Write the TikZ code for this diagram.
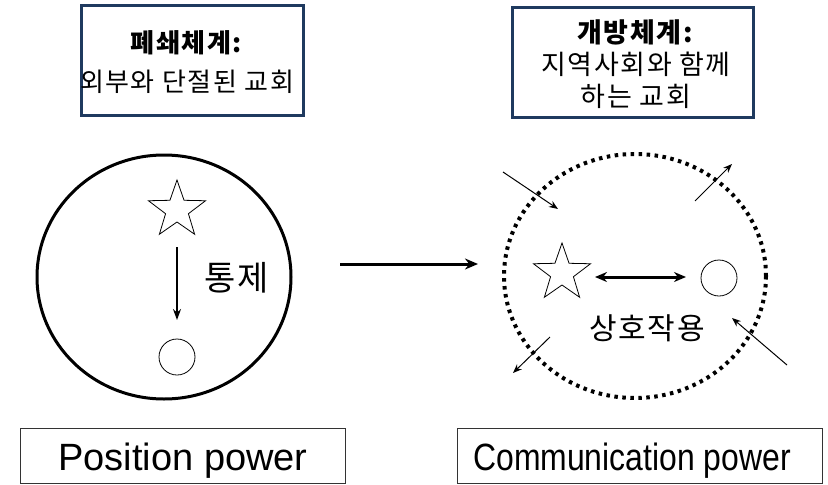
\documentclass[tikz,border=0pt]{standalone}
\usepackage{fontspec}
\setmainfont{Liberation Sans}
\newfontfamily\kr{Noto Sans CJK KR}
\newfontfamily\krwide{Noto Sans CJK KR}[LetterSpace=6]
\usetikzlibrary{shapes.geometric,arrows.meta}
\definecolor{navy}{HTML}{1F3A5F}
\tikzset{
  topbox/.style={draw=navy,line width=3pt,minimum width=#1,inner sep=0pt},
  botbox/.style={draw=black!80,line width=1pt,minimum height=55pt,inner sep=0pt},
  starshape/.style={draw,star,star points=5,star point ratio=2.5,minimum size=60pt,inner sep=0pt,line width=0.8pt},
  smallcirc/.style={draw,circle,minimum size=36pt,inner sep=0pt,line width=0.8pt},
  thinarrow/.style={line width=1pt,-{Stealth[length=9pt,width=7pt]}},
  ktext/.style={font=\krwide\fontsize{#1}{#1}\selectfont,inner sep=0pt}
}
\begin{document}
\begin{tikzpicture}[x=1pt,y=-1pt]
\useasboundingbox (0,0) rectangle (828,485);
% top boxes
\node[topbox=222pt,minimum height=110pt] (boxL) at (192,60) {};
\node[align=center,font=\krwide\fontsize{26}{39}\selectfont,inner sep=0pt] (txtL) at (187,62) {\textbf{폐쇄체계:}\\외부와 단절된 교회};
\node[topbox=241pt,minimum height=110pt] (boxR) at (632.5,62) {};
\node[align=center,font=\krwide\fontsize{27}{32}\selectfont,inner sep=0pt] (txtR) at (636,64) {\textbf{개방체계:}\\지역사회와 함께\\하는 교회};
% left circle
\draw[line width=3pt] (164,277) ellipse (127 and 122);
\node[starshape] (starL) at (177,210) {};
\node[smallcirc] (circL) at (177,357) {};
\coordinate (cL1) at (177,247);
\coordinate (cL2) at (177,320);
\draw[line width=1.6pt,-{Stealth[length=11pt,width=8pt]}] (cL1) -- (cL2);
\node[ktext=34] (tongje) at (237,278) {통제};
% middle arrow
\coordinate (m1) at (340,264);
\coordinate (m2) at (478,264);
\draw[line width=3pt,-{Stealth[length=13pt,width=11pt]}] (m1) -- (m2);
% right dotted circle
\draw[line width=4pt,dash pattern=on 3.5pt off 4.5pt] (635,276) ellipse (131 and 122);
\node[starshape] (starR) at (562,273) {};
\node[smallcirc] (circR) at (719,278) {};
\coordinate (d1) at (595,277);
\coordinate (d2) at (686,277);
\draw[line width=3pt,{Stealth[length=12pt,width=10pt]}-{Stealth[length=12pt,width=10pt]}] (d1) -- (d2);
\node[ktext=30] (sangho) at (647,328) {상호작용};
% outer arrows
\coordinate (o1s) at (503,172); \coordinate (o1e) at (558,209);
\coordinate (o2s) at (695,201); \coordinate (o2e) at (732,164);
\coordinate (o3s) at (550,337); \coordinate (o3e) at (513,373);
\coordinate (o4s) at (787,365); \coordinate (o4e) at (732,318);
\draw[thinarrow] (o1s) -- (o1e);
\draw[thinarrow] (o2s) -- (o2e);
\draw[thinarrow] (o3s) -- (o3e);
\draw[thinarrow] (o4s) -- (o4e);
% bottom boxes
\node[botbox,minimum width=325pt] (pbox) at (182.5,456) {};
\node[font=\fontsize{38}{38}\selectfont,inner sep=0pt] (ptxt) at (183,461) {Position power};
\node[botbox,minimum width=365pt] (cbox) at (639.5,456) {};
\node[font=\fontsize{38}{38}\selectfont,inner sep=0pt,xscale=0.84] (ctxt) at (632,461) {Communication power};
\end{tikzpicture}
\end{document}
